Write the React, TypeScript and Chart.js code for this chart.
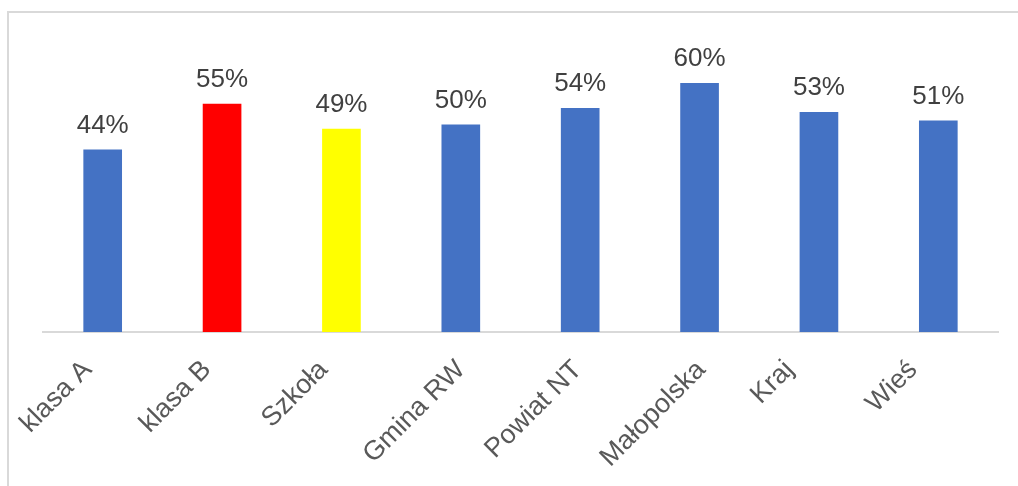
import React, { useEffect, useRef } from "react";
import { Chart, registerables } from "chart.js";

Chart.register(...registerables);

const categories = ["klasa A", "klasa B", "Szkoła", "Gmina RW", "Powiat NT", "Małopolska", "Kraj", "Wieś"];
const values = [44, 55, 49, 50, 54, 60, 53, 51];
const barColors = ["#4472C4", "#FF0000", "#FFFF00", "#4472C4", "#4472C4", "#4472C4", "#4472C4", "#4472C4"];

const FONT = "'Liberation Sans', Arial, sans-serif";
const TICK_SIZE = 27;

const valueLabels = {
  id: "valueLabels",
  afterDatasetsDraw(chart: any) {
    const ctx = chart.ctx;
    const meta = chart.getDatasetMeta(0);
    ctx.save();
    ctx.font = `26px ${FONT}`;
    ctx.fillStyle = "#404040";
    ctx.textAlign = "center";
    ctx.textBaseline = "alphabetic";
    meta.data.forEach((bar: any, i: number) => {
      ctx.fillText(`${values[i]}%`, bar.x, bar.y - 17);
    });
    ctx.restore();
  },
};

// Excel-style rotated category labels: top edge aligned, centre shifted left of the tick
const categoryLabels = {
  id: "categoryLabels",
  afterDraw(chart: any) {
    const ctx = chart.ctx;
    const xs = chart.scales.x;
    const top = xs.top + 25;
    const r = Math.SQRT2;
    ctx.save();
    ctx.font = `${TICK_SIZE}px ${FONT}`;
    ctx.fillStyle = "#595959";
    ctx.textAlign = "center";
    ctx.textBaseline = "alphabetic";
    categories.forEach((label, i) => {
      const tx = xs.getPixelForTick(i);
      const w = ctx.measureText(label).width;
      const cx = tx - 48;
      const cy = top + (w + 0.73 * TICK_SIZE) / (2 * r);
      ctx.save();
      ctx.translate(cx, cy);
      ctx.rotate(-Math.PI / 4);
      ctx.fillText(label, 0, 0.36 * TICK_SIZE);
      ctx.restore();
    });
    ctx.restore();
  },
};

export default function App() {
  const ref = useRef<HTMLCanvasElement | null>(null);
  useEffect(() => {
    if (!ref.current) return;
    const chart = new Chart(ref.current, {
      type: "bar",
      data: {
        labels: categories,
        datasets: [
          {
            data: values,
            backgroundColor: barColors,
            barThickness: 38,
          },
        ],
      },
      options: {
        responsive: false,
        animation: false,
        devicePixelRatio: 1,
        layout: { padding: { left: 43, right: 20, top: 42, bottom: 0 } },
        plugins: { legend: { display: false }, tooltip: { enabled: false } },
        scales: {
          x: {
            grid: { display: false, drawTicks: false },
            border: { display: true, color: "#D9D9D9", width: 2 },
            ticks: { display: false },
            afterFit(scale: any) {
              scale.height = 154;
              scale.paddingLeft = 0;
              scale.paddingRight = 0;
            },
          },
          y: {
            display: false,
            min: 0,
            max: 70,
          },
        },
      },
      plugins: [valueLabels, categoryLabels],
    });
    return () => chart.destroy();
  }, []);

  return (
    <div>
      <div
        style={{
          position: "fixed",
          left: 7,
          top: 11,
          width: 1200,
          height: 700,
          border: "2px solid #D9D9D9",
          boxSizing: "border-box",
          background: "#fff",
        }}
      />
      <canvas
        ref={ref}
        width={1018}
        height={486}
        style={{ position: "fixed", left: 0, top: 0, width: 1018, height: 486 }}
      />
    </div>
  );
}
